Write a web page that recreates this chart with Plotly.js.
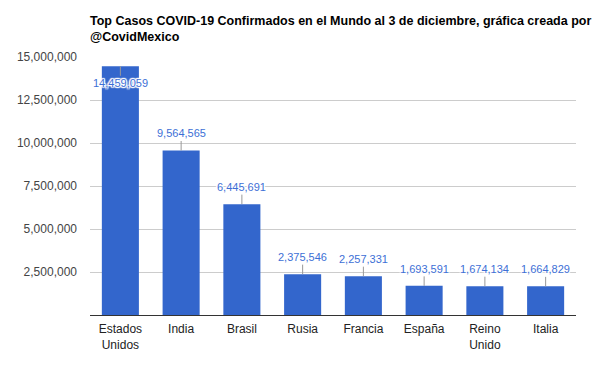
<!DOCTYPE html>
<html><head><meta charset="utf-8">
<script src="https://cdn.plot.ly/plotly-3.0.1.min.js"></script>
<style>html,body{margin:0;padding:0;background:#fff}#c{width:600px;height:371px}</style>
</head><body><div id="c"></div>
<script>
const categories = ["Estados<br>Unidos","India","Brasil","Rusia","Francia","España","Reino<br>Unido","Italia"];
const values = [14459059, 9564565, 6445691, 2375546, 2257331, 1693591, 1674134, 1664829];
const tickVals = [0, 2500000, 5000000, 7500000, 10000000, 12500000, 15000000];
const tickText = ["", "2,500,000", "5,000,000", "7,500,000", "10,000,000", "12,500,000", "15,000,000"];
const yMax = 15000000;

const fmt = v => v.toLocaleString('en-US');
const halo = "1px 0 1px #fff, -1px 0 1px #fff, 0 1px 1px #fff, 0 -1px 1px #fff, 1px 1px 1px #fff, -1px -1px 1px #fff, 1px -1px 1px #fff, -1px 1px 1px #fff";

const annotations = values.map((v, i) => {
  const inside = v > yMax * 0.93;
  return {
    x: categories[i], y: v, xref: 'x', yref: 'y',
    text: fmt(v), showarrow: true, arrowhead: 0, arrowwidth: 1, arrowcolor: '#999',
    ax: 0, ay: inside ? 17 : -17, standoff: 0,
    font: {family: 'Liberation Sans, Arial, sans-serif', size: 11, color: '#3d6fd6', shadow: halo}
  };
});

Plotly.newPlot('c', [{
  type: 'bar', x: categories, y: values,
  marker: {color: '#3366cc'}, hoverinfo: 'none'
}], {
  width: 600, height: 371,
  margin: {l: 90, r: 24, t: 57, b: 56},
  paper_bgcolor: '#fff', plot_bgcolor: '#fff',
  font: {family: 'Liberation Sans, Arial, sans-serif', size: 12, color: '#222'},
  title: {
    text: '<b>Top Casos COVID-19 Confirmados en el Mundo al 3 de diciembre, gráfica creada por<br>@CovidMexico</b>',
    x: 90/600, xref: 'container', xanchor: 'left',
    y: 1 - 25/371, yref: 'container', yanchor: 'middle',
    font: {family: 'Liberation Sans, Arial, sans-serif', size: 12.5, color: '#000'}
  },
  bargap: 0.39,
  xaxis: {showline: true, linecolor: '#333', linewidth: 1, ticks: '', showgrid: false,
    ticklabelstandoff: 3,
    tickfont: {size: 12, color: '#222'}, fixedrange: true},
  yaxis: {range: [0, yMax], tickvals: tickVals, ticktext: tickText, showgrid: true,
    gridcolor: '#ccc', zeroline: false, ticks: '', ticklabelstandoff: 12,
    tickfont: {size: 12, color: '#444'}, fixedrange: true},
  annotations: annotations,
  showlegend: false
}, {displayModeBar: false, staticPlot: true});
</script></body></html>
